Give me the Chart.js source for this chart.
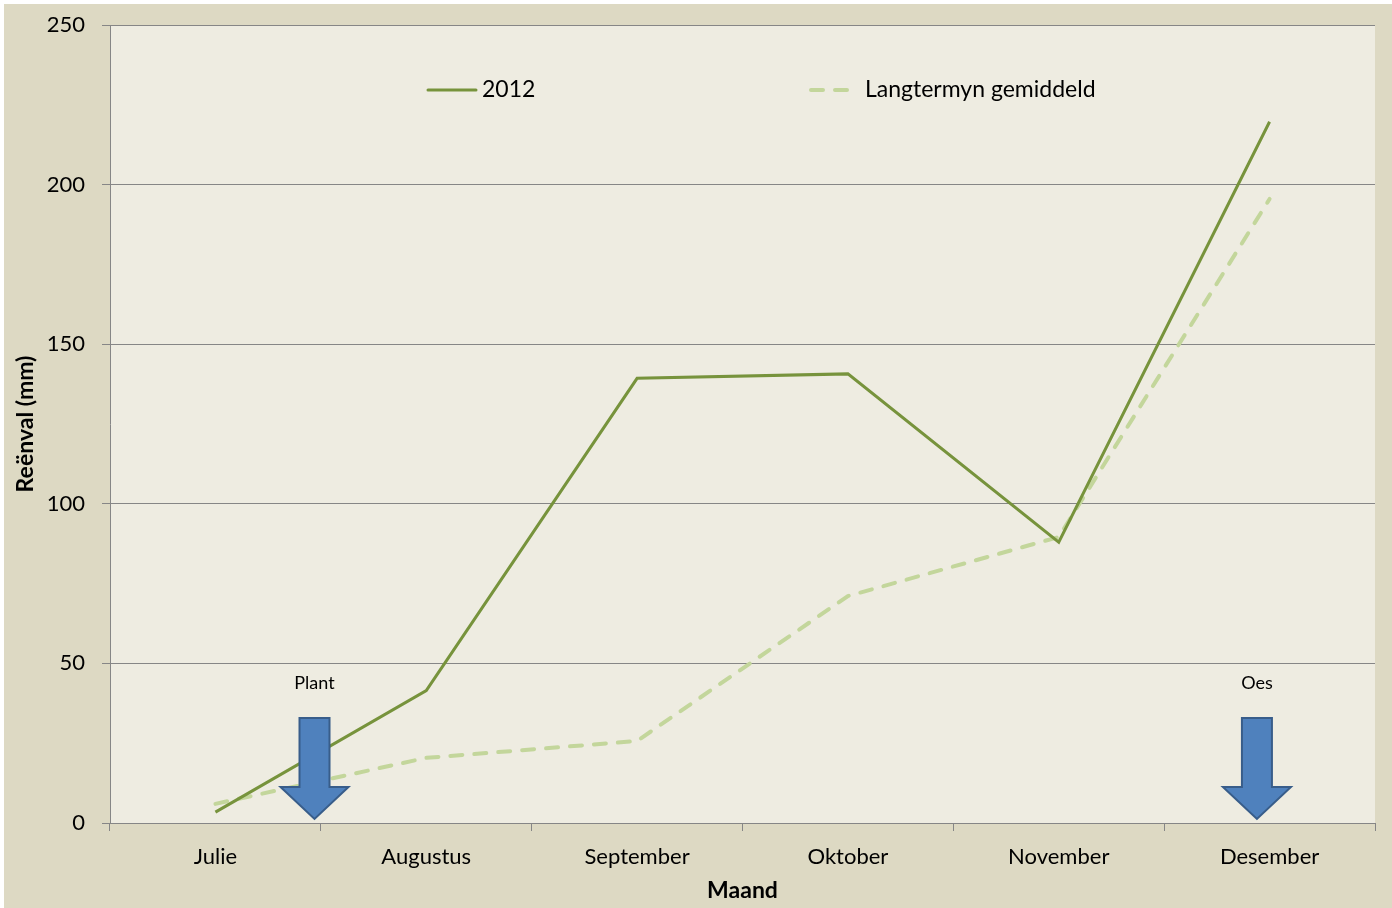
<!DOCTYPE html>
<html>
<head>
<meta charset="utf-8">
<script src="https://cdn.jsdelivr.net/npm/chart.js@4/dist/chart.umd.min.js"></script>
<style>
  body { margin: 0; background: #fff; }
  #wrap { position: absolute; left: 4px; top: 4px; width: 1388px; height: 904px; background: #ddd9c3; }
</style>
</head>
<body>
<div id="wrap"><canvas id="rainChart" width="1388" height="904"></canvas></div>
<script>
// maande en reënval (mm)
const months = ["Julie", "Augustus", "September", "Oktober", "November", "Desember"];
const rain2012 = [3.4, 41.5, 139.3, 140.7, 88.0, 219.7];
const rainLongTerm = [6.0, 20.4, 25.7, 71.1, 89.6, 195.5];
const yTicks = [0, 50, 100, 150, 200, 250];

// plant / oes merkers (maand-indeks)
const markerLabels = ["Plant", "Oes"];
const markerMonths = [0.47, 4.94];

const FONT = "Lato, 'Open Sans', sans-serif";
const GRID = "#868686";

const plotBg = {
  id: "plotBg",
  beforeDraw(chart) {
    const { ctx, chartArea: a } = chart;
    ctx.save();
    ctx.fillStyle = "#eeece1";
    ctx.fillRect(a.left, a.top, a.right - a.left, a.bottom - a.top);
    ctx.restore();
  }
};

const arrows = {
  id: "arrows",
  afterDatasetsDraw(chart) {
    const { ctx, scales } = chart;
    const y0 = scales.y.getPixelForValue(0);
    markerMonths.forEach((m, i) => {
      const x = scales.x.getPixelForValue(m);
      const tip = y0 - 4, headTop = y0 - 36, top = y0 - 105;
      ctx.save();
      ctx.beginPath();
      ctx.moveTo(x - 15, top);
      ctx.lineTo(x + 15, top);
      ctx.lineTo(x + 15, headTop);
      ctx.lineTo(x + 34, headTop);
      ctx.lineTo(x, tip);
      ctx.lineTo(x - 34, headTop);
      ctx.lineTo(x - 15, headTop);
      ctx.closePath();
      ctx.fillStyle = "#4f81bd";
      ctx.fill();
      ctx.lineWidth = 2;
      ctx.strokeStyle = "#385d8a";
      ctx.stroke();
      ctx.fillStyle = "#000";
      ctx.font = "18px " + FONT;
      ctx.textAlign = "center";
      ctx.textBaseline = "middle";
      ctx.fillText(markerLabels[i], x, y0 - 140);
      ctx.restore();
    });
  }
};

const legendInside = {
  id: "legendInside",
  afterDraw(chart) {
    const { ctx, chartArea: a } = chart;
    const y = a.top + 65;
    const starts = [a.left + 316, a.left + 699];
    ctx.save();
    ctx.font = "23px " + FONT;
    ctx.textBaseline = "middle";
    chart.data.datasets.forEach((ds, i) => {
      const x = starts[i];
      ctx.beginPath();
      ctx.lineWidth = ds.borderWidth;
      ctx.strokeStyle = ds.borderColor;
      ctx.lineCap = "round";
      ctx.setLineDash(ds.borderDash || []);
      ctx.moveTo(x + 2, y);
      ctx.lineTo(x + 50, y);
      ctx.stroke();
      ctx.setLineDash([]);
      ctx.fillStyle = "#000";
      ctx.fillText(ds.label, x + 56, y);
    });
    ctx.restore();
  }
};

new Chart(document.getElementById("rainChart"), {
  type: "line",
  data: {
    labels: months,
    datasets: [
      {
        label: "2012",
        data: rain2012,
        borderColor: "#77933c",
        borderWidth: 3,
        pointRadius: 0,
        tension: 0
      },
      {
        label: "Langtermyn gemiddeld",
        data: rainLongTerm,
        borderColor: "#c3d69b",
        borderWidth: 4,
        borderDash: [12, 12],
        borderCapStyle: "round",
        pointRadius: 0,
        tension: 0
      }
    ]
  },
  options: {
    responsive: false,
    animation: false,
    layout: { padding: { left: 0, top: 21, right: 17, bottom: 0 } },
    plugins: {
      legend: { display: false },
      tooltip: { enabled: false }
    },
    scales: {
      x: {
        offset: true,
        grid: { offset: true, drawOnChartArea: false, drawTicks: true, tickLength: 8, color: GRID },
        border: { color: GRID, width: 1 },
        ticks: { color: "#000", padding: 13, font: { family: FONT, size: 22 } },
        title: {
          display: true,
          text: "Maand",
          color: "#000",
          padding: { top: 3 },
          font: { family: FONT, size: 23, weight: "bold" }
        },
        afterFit(scale) { scale.height = 85; }
      },
      y: {
        min: 0,
        max: 250,
        afterBuildTicks(scale) { scale.ticks = yTicks.map(v => ({ value: v })); },
        grid: { color: GRID, tickLength: 8 },
        border: { color: GRID, width: 1 },
        ticks: { color: "#000", padding: 17, font: { family: FONT, size: 22 } },
        title: {
          display: true,
          text: "Reënval (mm)",
          color: "#000",
          padding: { top: 8 },
          font: { family: FONT, size: 23, weight: "bold" }
        },
        afterFit(scale) {
          scale.width = 106;
          scale.paddingTop = 0;
          scale.paddingBottom = 0;
        }
      }
    }
  },
  plugins: [plotBg, arrows, legendInside]
});
</script>
</body>
</html>
